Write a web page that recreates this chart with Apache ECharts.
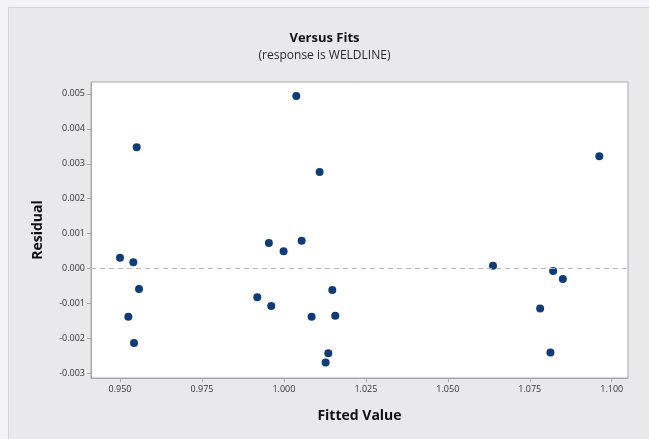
<!DOCTYPE html>
<html>
<head>
<meta charset="utf-8">
<style>
html, body { margin: 0; padding: 0; background: #f3f3f5; }
#chart { width: 649px; height: 439px; }
</style>
<script src="https://cdn.jsdelivr.net/npm/echarts@6/dist/echarts.min.js"></script>
</head>
<body>
<div id="chart"></div>
<script>
// fitted values and residuals
const fits = [0.95509, 0.9500, 0.95406, 0.9558, 0.95254, 0.95427,
  1.00378, 1.01089, 0.99542, 0.9999, 1.00541,
  0.99187, 0.99614, 1.00845, 1.01476, 1.01567, 1.01354, 1.01272,
  1.09622, 1.06378, 1.08213, 1.08509, 1.07817, 1.08131]
const residuals = [0.00347, 0.00031, 0.00018, -0.00058, -0.00138, -0.00213,
  0.00494, 0.002765, 0.00073, 0.0005, 0.0008,
  -0.00082, -0.00107, -0.00138, -0.00061, -0.00135, -0.00242, -0.00269,
  0.003215, 0.00008, -0.00007, -0.0003, -0.00114, -0.0024]
const xTicks = [0.950, 0.975, 1.000, 1.025, 1.050, 1.075, 1.100]
const yTicks = [-0.003, -0.002, -0.001, 0.000, 0.001, 0.002, 0.003, 0.004, 0.005]

const points = fits.map((f, i) => [f, residuals[i]])
const font = 'Open Sans'

const chart = echarts.init(document.getElementById('chart'))
chart.setOption({
  animation: false,
  backgroundColor: 'transparent',
  graphic: [{
    type: 'rect',
    left: 8, top: 7,
    shape: { width: 641, height: 432 },
    style: { fill: '#e9e9ec', stroke: '#d6d6da', lineWidth: 1 },
    z: -10
  }],
  title: {
    text: 'Versus Fits',
    subtext: '(response is WELDLINE)',
    left: 'center',
    top: 27,
    itemGap: 5,
    textStyle: { fontFamily: font, fontSize: 13, fontWeight: 'bold', color: '#111' },
    subtextStyle: { fontFamily: font, fontSize: 12, color: '#2a2a2a' }
  },
  grid: { left: 91, top: 82, right: 21, bottom: 61, show: true, backgroundColor: '#fff', borderColor: '#a8a8a8', borderWidth: 1 },
  xAxis: {
    type: 'value',
    min: 0.94115,
    max: 1.10497,
    name: 'Fitted Value',
    nameLocation: 'middle',
    nameGap: 31,
    nameTextStyle: { fontFamily: font, fontSize: 14, fontWeight: 'bold', color: '#111' },
    axisLine: { show: true, onZero: false, lineStyle: { color: '#a8a8a8' } },
    axisTick: { show: true, length: 4, customValues: xTicks, lineStyle: { color: '#a8a8a8' } },
    axisLabel: {
      customValues: xTicks,
      fontFamily: font, fontSize: 9, color: '#333', margin: 7,
      formatter: v => v.toFixed(3)
    },
    splitLine: { show: false }
  },
  yAxis: {
    type: 'value',
    min: -0.00313,
    max: 0.00534,
    name: 'Residual',
    nameLocation: 'middle',
    nameGap: 46,
    nameTextStyle: { fontFamily: font, fontSize: 14, fontWeight: 'bold', color: '#111' },
    axisLine: { show: true, onZero: false, lineStyle: { color: '#a8a8a8' } },
    axisTick: { show: true, length: 4, customValues: yTicks, lineStyle: { color: '#a8a8a8' } },
    axisLabel: {
      customValues: yTicks,
      fontFamily: font, fontSize: 9, color: '#333', margin: 6,
      formatter: v => v.toFixed(3)
    },
    splitLine: { show: false }
  },
  series: [{
    type: 'scatter',
    data: points,
    symbol: 'circle',
    symbolSize: 8,
    itemStyle: { color: '#0f3c78', opacity: 1 },
    markLine: {
      silent: true,
      symbol: 'none',
      label: { show: false },
      lineStyle: { color: '#b8b8b8', type: [5, 4], width: 1 },
      data: [{ yAxis: 0 }]
    }
  }]
})
</script>
</body>
</html>
